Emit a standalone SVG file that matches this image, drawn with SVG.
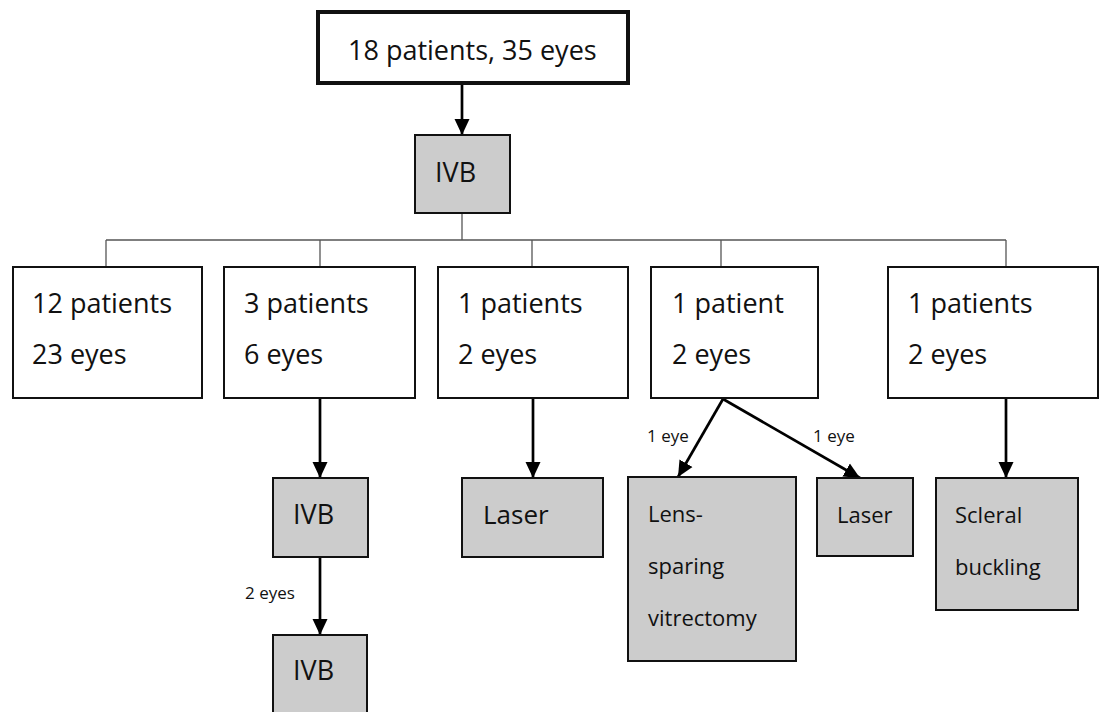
<svg xmlns="http://www.w3.org/2000/svg" width="1106" height="712" viewBox="0 0 1106 712">
<style>
  text { font-family: "Open Sans", "Liberation Sans", sans-serif; fill: #111; }
  .big { font-size: 27px; }
  .mid { font-size: 22px; }
  .lbl { font-size: 17px; }
  .wbox { fill: #fff; stroke: #111; stroke-width: 2; }
  .gbox { fill: #cccccc; stroke: #111; stroke-width: 2; }
  .thin { fill: none; stroke: #555; stroke-width: 1.3; }
  .arr { fill: none; stroke: #000; stroke-width: 2.7; marker-end: url(#ah); }
</style>
<defs>
  <marker id="ah" markerUnits="userSpaceOnUse" markerWidth="16" markerHeight="16" refX="16" refY="8" orient="auto">
    <path d="M0,0.5 L16,8 L0,15.5 z" fill="#000"/>
  </marker>
</defs>
<rect width="1106" height="712" fill="#fff"/>

<g id="connectors">
  <line class="arr" x1="462" y1="84" x2="462" y2="135"/>
  <polyline class="thin" points="462,213 462,240"/>
  <line class="thin" x1="106" y1="240" x2="1006" y2="240"/>
  <line class="thin" x1="106" y1="240" x2="106" y2="267"/>
  <line class="thin" x1="320" y1="240" x2="320" y2="267"/>
  <line class="thin" x1="532" y1="240" x2="532" y2="267"/>
  <line class="thin" x1="721" y1="240" x2="721" y2="267"/>
  <line class="thin" x1="1006" y1="240" x2="1006" y2="267"/>
  <line class="arr" x1="320" y1="399" x2="320" y2="478"/>
  <line class="arr" x1="320" y1="557" x2="320" y2="635"/>
  <line class="arr" x1="533" y1="399" x2="533" y2="478"/>
  <line class="arr" x1="723" y1="399" x2="678" y2="477"/>
  <line class="arr" x1="723" y1="399" x2="860" y2="478"/>
  <line class="arr" x1="1006" y1="399" x2="1006" y2="478"/>
  <text class="lbl" x="245" y="599">2 eyes</text>
  <text class="lbl" x="647" y="442">1 eye</text>
  <text class="lbl" x="813" y="442">1 eye</text>
</g>

<g id="n-top">
  <rect x="318" y="12" width="310" height="71" fill="#fff" stroke="#111" stroke-width="4"/>
  <text class="big" x="348" y="60">18 patients, 35 eyes</text>
</g>
<g id="n-ivb1">
  <rect class="gbox" x="415" y="135" width="95" height="78"/>
  <text class="big" x="435" y="182">IVB</text>
</g>

<g id="n-g1">
  <rect class="wbox" x="13" y="267" width="189" height="131"/>
  <text class="big" x="32" y="313">12 patients</text>
  <text class="big" x="32" y="364">23 eyes</text>
</g>
<g id="n-g2">
  <rect class="wbox" x="224" y="267" width="191" height="131"/>
  <text class="big" x="244" y="313">3 patients</text>
  <text class="big" x="244" y="364">6 eyes</text>
</g>
<g id="n-g3">
  <rect class="wbox" x="438" y="267" width="190" height="131"/>
  <text class="big" x="458" y="313">1 patients</text>
  <text class="big" x="458" y="364">2 eyes</text>
</g>
<g id="n-g4">
  <rect class="wbox" x="651" y="267" width="167" height="131"/>
  <text class="big" x="672" y="313">1 patient</text>
  <text class="big" x="672" y="364">2 eyes</text>
</g>
<g id="n-g5">
  <rect class="wbox" x="888" y="267" width="210" height="131"/>
  <text class="big" x="908" y="313">1 patients</text>
  <text class="big" x="908" y="364">2 eyes</text>
</g>

<g id="n-ivb2">
  <rect class="gbox" x="273" y="478" width="95" height="79"/>
  <text class="big" x="293" y="524">IVB</text>
</g>
<g id="n-ivb3">
  <rect class="gbox" x="273" y="635" width="94" height="90"/>
  <text class="big" x="293" y="680">IVB</text>
</g>
<g id="n-laser1">
  <rect class="gbox" x="462" y="478" width="141" height="79"/>
  <text class="big" x="483" y="524" style="font-size:26px">Laser</text>
</g>
<g id="n-lens">
  <rect class="gbox" x="628" y="477" width="168" height="184"/>
  <text class="mid" x="648" y="522">Lens-</text>
  <text class="mid" x="648" y="574">sparing</text>
  <text class="mid" x="648" y="626">vitrectomy</text>
</g>
<g id="n-laser2">
  <rect class="gbox" x="817" y="478" width="96" height="78"/>
  <text class="mid" x="837" y="523">Laser</text>
</g>
<g id="n-scleral">
  <rect class="gbox" x="936" y="478" width="142" height="132"/>
  <text class="mid" x="955" y="523">Scleral</text>
  <text class="mid" x="955" y="575">buckling</text>
</g>
</svg>
